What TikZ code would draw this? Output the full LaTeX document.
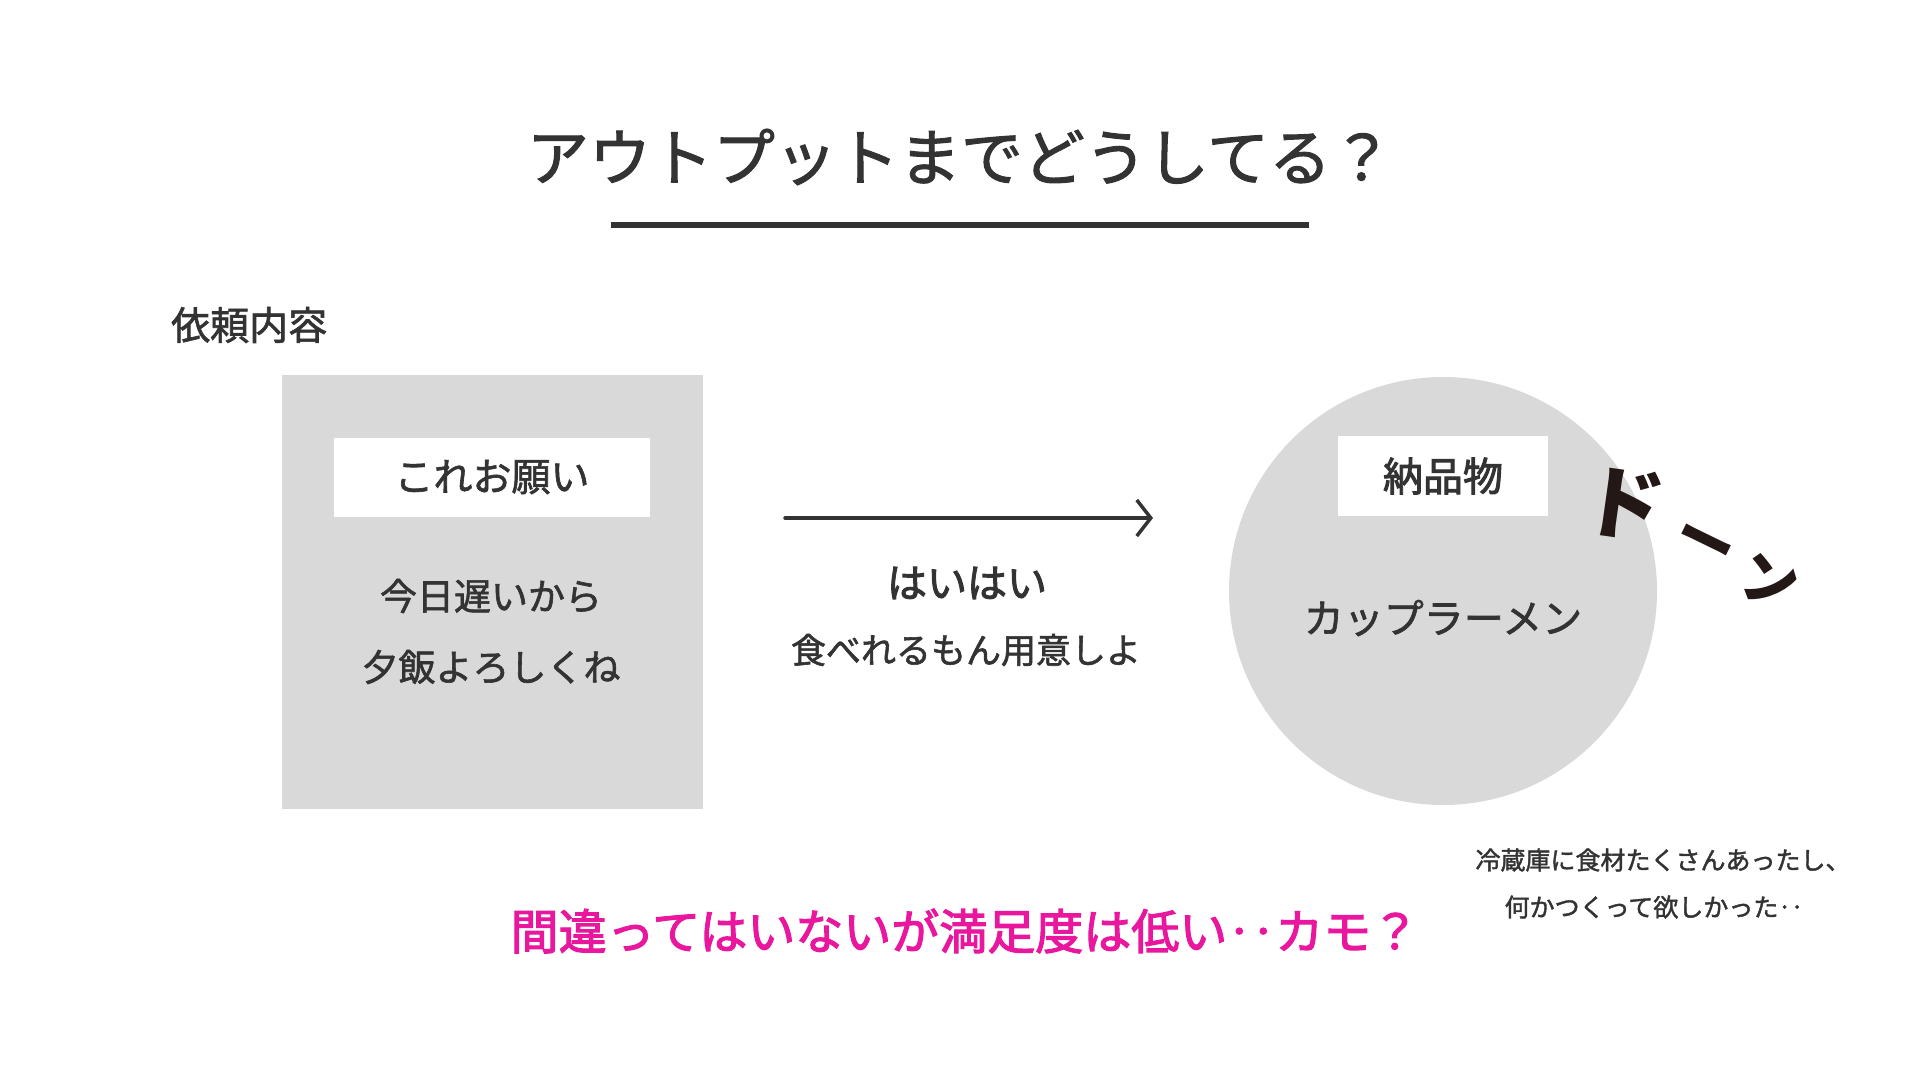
\documentclass[tikz,border=0pt]{standalone}
\usepackage{fontspec}
\setmainfont{Noto Sans CJK JP}
\newfontfamily\jpm{Noto Sans CJK JP}[FakeBold=1.6]
\newfontfamily\jpb{Noto Sans CJK JP}[FakeBold=2.4]
\usetikzlibrary{arrows.meta}
\definecolor{ink}{HTML}{333333}
\definecolor{boxgray}{HTML}{D9D9D9}
\definecolor{pink}{HTML}{E8179E}
\definecolor{brush}{HTML}{231815}
\tikzset{
  txt/.style={text=ink, inner sep=0pt, anchor=center},
  labelbox/.style={fill=white, draw=none, inner sep=0pt},
  brushtxt/.style={text=brush, inner sep=0pt},
}
\begin{document}
\begin{tikzpicture}[x=1pt,y=-1pt]
\useasboundingbox (0,0) rectangle (1920,1080);
\fill[white] (0,0) rectangle (1920,1080);
% title
\node[txt, font=\jpm\fontsize{62}{70}\selectfont] (title) at (960,157) {アウトプットまでどうしてる？};
\coordinate (ulL) at (611,225);
\coordinate (ulR) at (1309,225);
\draw[ink, line width=6pt] (ulL) -- (ulR);
% section label
\node[txt, font=\jpm\fontsize{39}{44}\selectfont, anchor=west] (irai) at (171,325) {依頼内容};
% left box
\node[fill=boxgray, minimum width=421pt, minimum height=434pt, inner sep=0pt] (req) at (492.5,592) {};
\node[labelbox, minimum width=316pt, minimum height=79pt] (reqlab) at (492,477) {};
\node[txt, font=\jpm\fontsize{39}{44}\selectfont] at (reqlab) {これお願い};
\node[txt, font=\jpm\fontsize{37}{44}\selectfont] (l1) at (491,596) {今日遅いから};
\node[txt, font=\jpm\fontsize{37}{44}\selectfont] (l2) at (491,667) {夕飯よろしくね};
% arrow
\coordinate (aS) at (785,518);
\coordinate (aE) at (1153,518);
\draw[ink, line width=3.5pt, line cap=round, -{Straight Barb[length=14pt, width=36pt, line width=3.5pt]}] (aS) -- (aE);
\node[txt, font=\jpb\fontsize{40}{44}\selectfont] (hai) at (967,583) {はいはい};
\node[txt, font=\jpm\fontsize{35}{40}\selectfont] (tabe) at (966,650) {食べれるもん用意しよ};
% circle
\node[circle, fill=boxgray, minimum size=428pt, inner sep=0pt] (del) at (1443,591) {};
\node[labelbox, minimum width=210pt, minimum height=80pt] (dellab) at (1443,476) {};
\node[txt, font=\jpb\fontsize{40}{44}\selectfont] at (dellab) {納品物};
\node[txt, font=\jpm\fontsize{40}{44}\selectfont] (cup) at (1443,618) {カップラーメン};
% don
\node[brushtxt, rotate=-8, font=\fontsize{80}{84}\selectfont\bfseries] (don1) at (1624,503) {ド};
\node[brushtxt, rotate=-26, font=\fontsize{60}{64}\selectfont\bfseries] (don2) at (1703,548) {ー};
\node[brushtxt, rotate=-12, font=\fontsize{58}{62}\selectfont\bfseries] (don3) at (1770,580) {ン};
% comment
\node[txt, font=\jpm\fontsize{25}{30}\selectfont] (c1) at (1663,860) {冷蔵庫に食材たくさんあったし、};
\node[txt, font=\jpm\fontsize{25}{30}\selectfont] (c2) at (1654,907) {何かつくって欲しかった‥};
% conclusion
\node[text=pink, inner sep=0pt, font=\jpb\fontsize{48}{52}\selectfont] (concl) at (965,931) {間違ってはいないが満足度は低い‥カモ？};
\end{tikzpicture}
\end{document}
